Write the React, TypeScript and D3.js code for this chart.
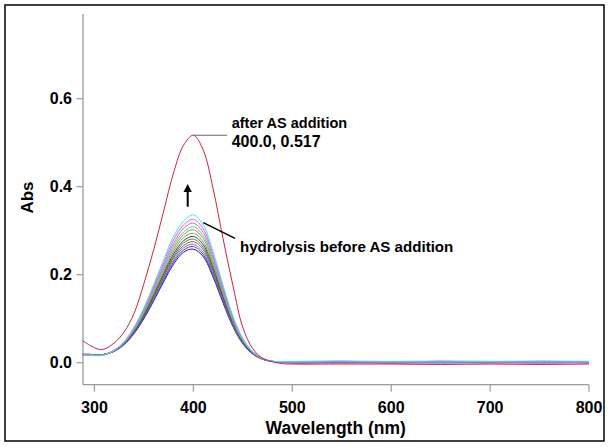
import React from 'react';
import * as d3 from 'd3';

// Wavelength grid (nm)
const wavelengths = [288, 295, 300, 305, 310, 320, 330, 340, 350, 360, 370, 380, 390, 400, 410, 420, 430, 440, 450, 460, 470, 480, 490, 500, 550, 600, 650, 700, 750, 800];

// After AS addition
const afterAS = [0.050, 0.040, 0.034, 0.030, 0.031, 0.045, 0.070, 0.112, 0.180, 0.258, 0.345, 0.432, 0.494, 0.517, 0.483, 0.395, 0.282, 0.175, 0.080, 0.032, 0.010, 0.002, -0.002, -0.003, -0.003, -0.003, -0.004, -0.003, -0.004, -0.003];

// Hydrolysis before AS addition (12 scans)
const hydCyan = [0.017, 0.017, 0.016, 0.016, 0.018, 0.029, 0.048, 0.081, 0.125, 0.178, 0.234, 0.287, 0.322, 0.336, 0.313, 0.252, 0.176, 0.106, 0.055, 0.025, 0.010, 0.003, 0.003, 0.003, 0.004, 0.003, 0.004, 0.003, 0.004, 0.003];
const hydMagenta = [0.017, 0.017, 0.017, 0.016, 0.018, 0.028, 0.047, 0.079, 0.122, 0.174, 0.228, 0.279, 0.313, 0.326, 0.304, 0.245, 0.171, 0.103, 0.054, 0.025, 0.010, 0.003, 0.002, 0.002, 0.003, 0.002, 0.003, 0.002, 0.002, 0.001];
const hydViolet = [0.018, 0.017, 0.017, 0.017, 0.018, 0.028, 0.046, 0.077, 0.119, 0.169, 0.222, 0.271, 0.305, 0.317, 0.296, 0.238, 0.167, 0.100, 0.052, 0.024, 0.009, 0.003, 0.001, 0.001, 0.002, 0.001, 0.002, 0.001, 0.002, 0.001];
const hydLightGreen = [0.018, 0.017, 0.017, 0.017, 0.018, 0.028, 0.046, 0.076, 0.116, 0.166, 0.217, 0.265, 0.297, 0.309, 0.288, 0.232, 0.163, 0.098, 0.051, 0.024, 0.009, 0.003, 0.002, 0.002, 0.003, 0.002, 0.003, 0.003, 0.002, 0.003];
const hydOlive = [0.018, 0.018, 0.017, 0.017, 0.018, 0.028, 0.045, 0.074, 0.114, 0.162, 0.213, 0.259, 0.291, 0.302, 0.282, 0.227, 0.159, 0.096, 0.050, 0.023, 0.009, 0.003, 0.001, 0.001, 0.002, 0.001, 0.001, 0.002, 0.001, 0.002];
const hydGray = [0.018, 0.018, 0.017, 0.017, 0.018, 0.027, 0.044, 0.073, 0.112, 0.158, 0.207, 0.253, 0.284, 0.294, 0.274, 0.221, 0.155, 0.093, 0.049, 0.023, 0.009, 0.003, 0.002, 0.001, 0.002, 0.002, 0.001, 0.002, 0.002, 0.001];
const hydDarkGray = [0.018, 0.018, 0.018, 0.017, 0.019, 0.027, 0.044, 0.071, 0.109, 0.155, 0.203, 0.247, 0.277, 0.287, 0.268, 0.216, 0.151, 0.091, 0.048, 0.022, 0.009, 0.003, 0.001, 0.001, 0.001, 0.001, 0.002, 0.001, 0.001, 0.002];
const hydGreen = [0.018, 0.018, 0.018, 0.017, 0.019, 0.027, 0.043, 0.070, 0.107, 0.152, 0.199, 0.242, 0.272, 0.281, 0.262, 0.211, 0.148, 0.089, 0.047, 0.022, 0.009, 0.003, 0.002, 0.002, 0.003, 0.002, 0.003, 0.002, 0.003, 0.002];
const hydBrown = [0.018, 0.018, 0.018, 0.018, 0.019, 0.027, 0.043, 0.069, 0.105, 0.149, 0.195, 0.238, 0.266, 0.275, 0.257, 0.207, 0.145, 0.087, 0.046, 0.021, 0.008, 0.003, 0.001, 0.000, 0.001, 0.000, 0.001, 0.000, 0.001, 0.000];
const hydPurple = [0.019, 0.018, 0.018, 0.018, 0.019, 0.026, 0.042, 0.068, 0.104, 0.146, 0.191, 0.233, 0.261, 0.269, 0.251, 0.202, 0.142, 0.085, 0.045, 0.021, 0.008, 0.003, 0.000, 0.000, 0.000, -0.001, 0.000, 0.000, -0.001, 0.000];
const hydBlue = [0.019, 0.019, 0.018, 0.018, 0.019, 0.026, 0.042, 0.067, 0.102, 0.144, 0.188, 0.229, 0.256, 0.264, 0.246, 0.198, 0.139, 0.084, 0.044, 0.020, 0.008, 0.003, 0.001, 0.000, 0.001, 0.000, 0.000, 0.001, 0.000, 0.001];
const hydNavy = [0.019, 0.019, 0.018, 0.018, 0.019, 0.026, 0.041, 0.066, 0.100, 0.141, 0.184, 0.224, 0.251, 0.258, 0.241, 0.194, 0.136, 0.082, 0.043, 0.020, 0.008, 0.003, 0.001, 0.000, 0.000, 0.001, 0.000, 0.000, 0.001, 0.000];

const hydrolysisSeries = [
  { name: 'navy', color: '#1c1c8a', values: hydNavy },
  { name: 'blue', color: '#3a3aff', values: hydBlue },
  { name: 'purple', color: '#9a5ccc', values: hydPurple },
  { name: 'brown', color: '#8a5a2a', values: hydBrown },
  { name: 'green', color: '#2e8b57', values: hydGreen },
  { name: 'darkgray', color: '#404040', values: hydDarkGray },
  { name: 'gray', color: '#8a8a8a', values: hydGray },
  { name: 'olive', color: '#8f9f4f', values: hydOlive },
  { name: 'lightgreen', color: '#5fd35f', values: hydLightGreen },
  { name: 'violet', color: '#c070d0', values: hydViolet },
  { name: 'magenta', color: '#ff50ff', values: hydMagenta },
  { name: 'cyan', color: '#30e8ff', values: hydCyan },
];

const xTicks = [300, 400, 500, 600, 700, 800];
const yTicks = [0.0, 0.2, 0.4, 0.6];

const W = 611;
const H = 447;
const FONT = '"Liberation Sans", Arial, Helvetica, sans-serif';

export default function App() {
  const x = d3.scaleLinear().domain([288.4, 800]).range([83, 589]);
  const y = d3.scaleLinear().domain([-0.05, 0.79]).range([384.7, 15.1]);

  const line = (vals: number[]) =>
    d3
      .line<number>()
      .x((_, i) => x(wavelengths[i]))
      .y((d) => y(d))
      .curve(d3.curveCatmullRom.alpha(0.5))(vals) as string;

  const axisColor = '#9a9a9a';
  const x0 = x(288.4);
  const yBottom = y(-0.05);

  const peakX = x(400);
  const peakY = y(0.517);

  return (
    <svg width={W} height={H} style={{ position: 'absolute', left: 0, top: 0 }} fontFamily={FONT}>
      <rect x={0} y={0} width={W} height={H} fill="#fff" />
      <rect x={5} y={5} width={599} height={436} fill="none" stroke="#000" strokeWidth={1.5} />

      {/* axes */}
      <line x1={x0} x2={x0} y1={14} y2={yBottom} stroke={axisColor} strokeWidth={1.3} />
      <line x1={x0} x2={x(800)} y1={yBottom} y2={yBottom} stroke={axisColor} strokeWidth={1.3} />
      {yTicks.map((t) => (
        <g key={'y' + t}>
          <line x1={x0 - 6.5} x2={x0} y1={y(t)} y2={y(t)} stroke={axisColor} strokeWidth={1.2} />
          <text x={72} y={y(t)} dy="0.36em" textAnchor="end" fontSize={16} fontWeight="bold" fill="#000">
            {d3.format('.1f')(t)}
          </text>
        </g>
      ))}
      {xTicks.map((t) => (
        <g key={'x' + t}>
          <line x1={x(t)} x2={x(t)} y1={yBottom} y2={yBottom + 7} stroke={axisColor} strokeWidth={1.2} />
          <text x={x(t)} y={412.8} textAnchor="middle" fontSize={16} fontWeight="bold" fill="#000">
            {t}
          </text>
        </g>
      ))}
      <text x={335.7} y={433.5} textAnchor="middle" fontSize={17.5} fontWeight="bold" fill="#000">
        Wavelength (nm)
      </text>
      <text transform="translate(33.3,197.5) rotate(-90)" textAnchor="middle" fontSize={17} fontWeight="bold" fill="#000">
        Abs
      </text>

      {/* curves */}
      <g fill="none" strokeWidth={1}>
        {hydrolysisSeries.map((s) => (
          <path key={s.name} d={line(s.values)} stroke={s.color} />
        ))}
        <path d={line(afterAS)} stroke="#d0223e" />
      </g>

      {/* annotations */}
      <line x1={peakX} x2={227} y1={peakY} y2={peakY} stroke="#666" strokeWidth={1} />
      <text x={231.7} y={128} fontSize={14.5} fontWeight="bold" fill="#000">
        after AS addition
      </text>
      <text x={231.7} y={146.5} fontSize={16} fontWeight="bold" fill="#000">
        400.0, 0.517
      </text>

      <line x1={187.7} x2={187.7} y1={206.7} y2={190} stroke="#000" strokeWidth={2} />
      <path d="M183.5,192 L187.7,184 L191.9,192 Z" fill="#000" />

      <line x1={203.3} x2={235} y1={222.7} y2={238.3} stroke="#000" strokeWidth={1.5} />
      <text x={240} y={252.2} fontSize={15.1} fontWeight="bold" fill="#000">
        hydrolysis before AS addition
      </text>
    </svg>
  );
}
